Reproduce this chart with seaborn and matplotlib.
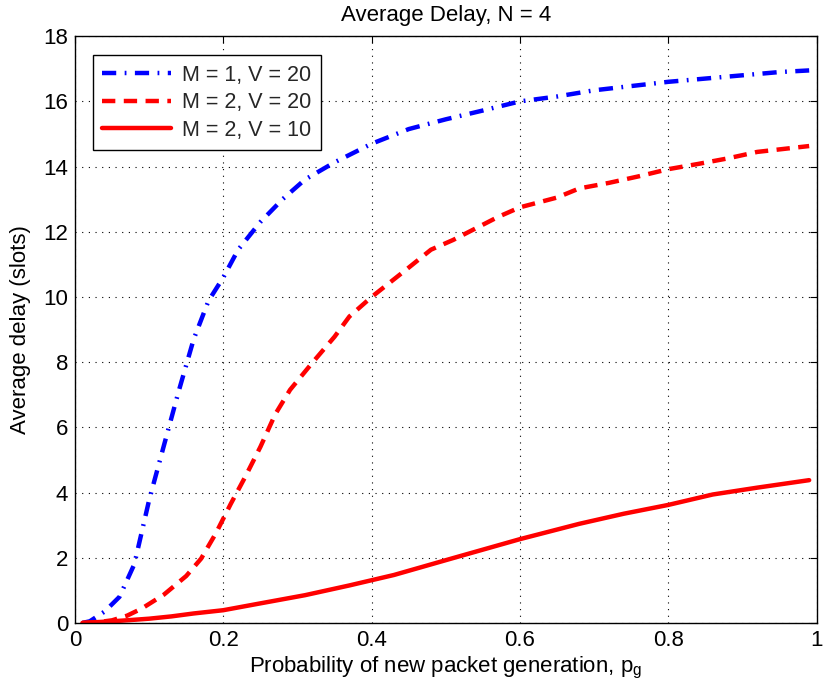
import numpy as np
import pandas as pd
import matplotlib
matplotlib.use("Agg")
import matplotlib.pyplot as plt
import seaborn as sns

# ---- data ----
x_m1v20 = [0.01, 0.02, 0.04, 0.06, 0.08, 0.10, 0.12, 0.14, 0.16, 0.18, 0.20, 0.22,
           0.25, 0.28, 0.31, 0.35, 0.40, 0.45, 0.50, 0.55, 0.60, 0.65, 0.70, 0.75,
           0.80, 0.85, 0.90, 0.95, 0.99]
y_m1v20 = [0.0, 0.05, 0.35, 0.8, 1.8, 3.77, 5.45, 7.12, 8.7, 9.88, 10.6, 11.45,
           12.3, 13.0, 13.6, 14.13, 14.7, 15.15, 15.45, 15.72, 16.0, 16.15, 16.34, 16.47,
           16.6, 16.7, 16.8, 16.9, 16.95]

x_m2v20 = [0.01, 0.03, 0.05, 0.07, 0.09, 0.12, 0.15, 0.17, 0.19, 0.21, 0.23, 0.25,
           0.27, 0.29, 0.32, 0.35, 0.37, 0.40, 0.45, 0.48, 0.51, 0.54, 0.57, 0.60,
           0.65, 0.68, 0.72, 0.76, 0.80, 0.84, 0.88, 0.92, 0.99]
y_m2v20 = [0.0, 0.02, 0.08, 0.22, 0.44, 0.87, 1.44, 1.97, 2.75, 3.65, 4.5, 5.4,
           6.4, 7.15, 7.98, 8.78, 9.4, 10.0, 10.9, 11.45, 11.75, 12.1, 12.45, 12.75,
           13.05, 13.33, 13.5, 13.7, 13.92, 14.08, 14.25, 14.45, 14.63]

x_m2v10 = [0.01, 0.05, 0.07, 0.10, 0.13, 0.16, 0.20, 0.25, 0.31, 0.37, 0.43, 0.51,
           0.60, 0.68, 0.74, 0.80, 0.86, 0.92, 0.99]
y_m2v10 = [0.0, 0.05, 0.08, 0.13, 0.2, 0.29, 0.39, 0.6, 0.85, 1.15, 1.47, 1.99,
           2.57, 3.04, 3.35, 3.62, 3.94, 4.15, 4.38]

labels = ["M = 1, V = 20", "M = 2, V = 20", "M = 2, V = 10"]
x_ticks = [0, 0.2, 0.4, 0.6, 0.8, 1]
x_ticklabels = ["0", "0.2", "0.4", "0.6", "0.8", "1"]
y_ticks = [0, 2, 4, 6, 8, 10, 12, 14, 16, 18]

df = pd.concat([
    pd.DataFrame({"p": x_m1v20, "delay": y_m1v20, "series": labels[0]}),
    pd.DataFrame({"p": x_m2v20, "delay": y_m2v20, "series": labels[1]}),
    pd.DataFrame({"p": x_m2v10, "delay": y_m2v10, "series": labels[2]}),
])

sns.set_theme(style="white")
plt.rcParams["font.family"] = ["Liberation Sans", "DejaVu Sans"]
plt.rcParams["mathtext.fontset"] = "custom"
plt.rcParams["mathtext.rm"] = "Liberation Sans"
plt.rcParams["mathtext.it"] = "Liberation Sans"

fs = 16
fig = plt.figure(figsize=(8.24, 6.96), dpi=100)
ax = fig.add_axes([0.091, 0.105, 0.900, 0.843])

lw = 3.2
sns.lineplot(data=df, x="p", y="delay", hue="series", style="series",
             palette={labels[0]: "#0000ff", labels[1]: "#ff0000", labels[2]: "#ff0000"},
             dashes={labels[0]: (3.2, 1.9, 0.4, 1.9), labels[1]: (3.0, 1.9), labels[2]: ""},
             linewidth=lw, ax=ax, legend=True, sort=False, estimator=None)

ax.set_xlim(0, 1)
ax.set_ylim(0, 18)
ax.set_xticks(x_ticks)
ax.set_xticklabels(x_ticklabels)
ax.set_yticks(y_ticks)
ax.tick_params(direction="in", length=5, width=0.8, top=True, right=True,
               labelsize=fs, colors="black", pad=5)
ax.grid(True, linestyle=(0, (1, 5)), color="black", linewidth=0.8)
for s in ax.spines.values():
    s.set_visible(True)
    s.set_color("black")
    s.set_linewidth(1.0)

ax.set_xlabel(r"Probability of new packet generation, $\mathregular{p_g}$", fontsize=fs, color="black", labelpad=3)
ax.set_ylabel("Average delay (slots)", fontsize=fs, color="black", labelpad=9)
ax.set_title("Average Delay, N = 4", fontsize=fs, color="black", pad=11)

leg = ax.legend(loc="upper left", bbox_to_anchor=(0.024, 0.968), fontsize=15.5,
                frameon=True, fancybox=False, edgecolor="black", framealpha=1,
                handlelength=3.2, borderpad=0.45, labelspacing=0.3, handletextpad=0.5,
                borderaxespad=0)
leg.get_frame().set_linewidth(1.0)
for line in leg.get_lines():
    line.set_linewidth(lw)

fig.savefig("out.png", dpi=100)
